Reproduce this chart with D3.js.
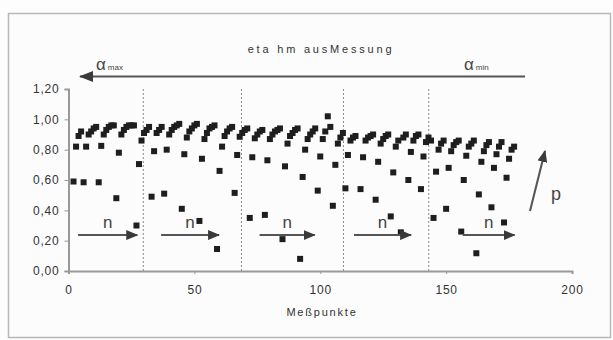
<!DOCTYPE html>
<html><head><meta charset="utf-8">
<script src="https://cdn.jsdelivr.net/npm/d3@7"></script>
<style>body{margin:0;background:#fff}svg{display:block}</style>
</head><body>
<svg id="c" width="613" height="340"></svg>
<script>
// ---- data ----
const xTicks = [0, 50, 100, 150, 200];
const yTicks = [0, 0.2, 0.4, 0.6, 0.8, 1.0, 1.2];
const messpunkt = [
  2,3,4,5,6,7,8,9,10,11,12,13,14,15,16,17,18,19,20,21,22,23,24,25,26,27,28,29,30,31,32,
  33,34,35,36,37,38,39,40,41,42,43,44,45,46,47,48,49,50,51,52,53,54,55,56,57,58,59,60,61,62,63,64,65,
  66,67,68,69,70,71,72,73,74,75,76,77,78,79,80,81,82,83,84,85,86,87,88,89,90,91,92,93,94,95,96,97,98,
  99,100,101,102,103,104,105,106,107,108,109,
  110,111,112,113,114,116,117,118,119,120,121,122,123,124,125,126,127,128,129,130,131,
  132,133,134,135,136,137,138,139,140,141,142,143,
  144,145,146,147,148,149,150,151,152,153,154,155,156,157,158,159,160,161,
  162,163,164,165,166,167,168,169,170,171,172,173,174,175,176,177
];
const eta = [
  0.59,0.82,0.89,0.92,0.585,0.82,0.90,0.92,0.94,0.95,0.585,0.825,0.90,0.93,0.95,0.96,0.96,0.48,0.78,0.90,0.93,0.95,0.96,0.96,0.96,0.30,0.705,0.86,0.91,0.93,0.95,
  0.49,0.79,0.91,0.93,0.95,0.51,0.80,0.90,0.93,0.95,0.96,0.97,0.41,0.77,0.88,0.92,0.94,0.96,0.97,0.33,0.74,0.87,0.91,0.94,0.95,0.96,0.145,0.66,0.82,0.89,0.92,0.94,0.95,
  0.515,0.765,0.885,0.91,0.93,0.94,0.35,0.75,0.875,0.90,0.92,0.93,0.37,0.73,0.87,0.90,0.92,0.93,0.94,0.21,0.69,0.84,0.89,0.91,0.93,0.94,0.08,0.62,0.80,0.87,0.90,0.92,0.94,
  0.53,0.755,0.87,0.92,1.02,0.95,0.43,0.70,0.84,0.88,0.91,
  0.545,0.765,0.86,0.88,0.89,0.54,0.75,0.86,0.88,0.89,0.90,0.47,0.72,0.84,0.87,0.89,0.90,0.36,0.65,0.82,0.86,
  0.255,0.88,0.90,0.60,0.785,0.86,0.89,0.90,0.54,0.755,0.85,0.88,
  0.86,0.35,0.655,0.80,0.84,0.86,0.41,0.68,0.79,0.83,0.85,0.86,0.26,0.60,0.76,0.82,0.84,0.86,
  0.117,0.505,0.72,0.79,0.83,0.85,0.42,0.68,0.77,0.82,0.85,0.32,0.615,0.74,0.80,0.82
];
const trennlinien = [29.7, 68.7, 109.2, 143.1];
const nPfeilStart = [3.8, 36.8, 75.9, 113.4, 156.6];
const nPfeilEnde  = [27.3, 59.8, 97.8, 136.1, 177.2];
const nPfeilEta = 0.237;

// ---- drawing ----
const svg = d3.select("#c");
const font = "'Liberation Sans', Arial, sans-serif";
const x = d3.scaleLinear().domain([0, 200]).range([68.5, 572]);
const y = d3.scaleLinear().domain([0, 1.2]).range([271, 89]);

svg.append("rect").attr("x",0).attr("y",0).attr("width",613).attr("height",340).attr("fill","#fdfdfd");
svg.append("rect").attr("x",8.5).attr("y",13.5).attr("width",602).attr("height",324)
  .attr("fill","#fcfcfc").attr("stroke","#b8b8b8").attr("stroke-width",1.5);

const defs = svg.append("defs");
function marker(id, w, h){
  defs.append("marker").attr("id",id).attr("viewBox",`0 0 ${w} ${h}`).attr("refX",w-1).attr("refY",h/2)
    .attr("markerWidth",w).attr("markerHeight",h).attr("markerUnits","userSpaceOnUse").attr("orient","auto")
    .append("path").attr("d",`M0,0 L${w},${h/2} L0,${h} z`).attr("fill","#3a3a3a");
}
marker("ah", 12, 10);
marker("ahBig", 14, 11);

// title
svg.append("text").attr("x",321).attr("y",53).attr("text-anchor","middle")
  .attr("font-family",font).attr("font-size",11).attr("letter-spacing",2.8).attr("fill","#333")
  .text("eta hm  ausMessung");

// alpha arrow
svg.append("line").attr("x1",525).attr("y1",76.5).attr("x2",80).attr("y2",76.5)
  .attr("stroke","#555").attr("stroke-width",2.2).attr("marker-end","url(#ahBig)");
function alpha(xp, sub){
  const t = svg.append("text").attr("x",xp).attr("y",70).attr("font-family",font).attr("fill","#444");
  t.append("tspan").attr("font-size",17).text("α");
  t.append("tspan").attr("font-size",8).attr("dx",2).text(sub);
}
alpha(96, "max");
alpha(464, "min");

// dashed separators
svg.append("g").selectAll("line").data(trennlinien).join("line")
  .attr("x1",d=>x(d)).attr("x2",d=>x(d)).attr("y1",y(1.2)).attr("y2",y(0))
  .attr("stroke","#888").attr("stroke-width",1).attr("stroke-dasharray","2,2");

// axes
const fmt = d => d3.format(".2f")(d).replace(".", ",");
const ya = svg.append("g").attr("transform",`translate(${x(0)},0)`)
  .call(d3.axisLeft(y).tickValues(yTicks).tickFormat(fmt).tickSize(4).tickPadding(5));
const xa = svg.append("g").attr("transform",`translate(0,${y(0)})`)
  .call(d3.axisBottom(x).tickValues(xTicks).tickFormat(d3.format("d")).tickSize(3).tickPadding(11));
[ya, xa].forEach(g => {
  g.select(".domain").attr("stroke","#999").attr("stroke-width",2);
  g.selectAll(".tick line").attr("stroke","#999");
  g.selectAll("text").attr("font-family",font).attr("font-size",12).attr("letter-spacing",0.8).attr("fill","#333");
});

// x label
svg.append("text").attr("x",322).attr("y",316).attr("text-anchor","middle")
  .attr("font-family",font).attr("font-size",11).attr("letter-spacing",1.8).attr("fill","#333")
  .text("Meßpunkte");

// points
const pts = messpunkt.map((m,i)=>({m, e: eta[i]}));
svg.append("g").selectAll("rect").data(pts).join("rect")
  .attr("x",d=>x(d.m)-3).attr("y",d=>y(d.e)-3).attr("width",6).attr("height",6).attr("fill","#1e1e1e");

// n arrows
svg.append("g").selectAll("line").data(nPfeilStart).join("line")
  .attr("x1",d=>x(d)).attr("x2",(d,i)=>x(nPfeilEnde[i])).attr("y1",y(nPfeilEta)).attr("y2",y(nPfeilEta))
  .attr("stroke","#555").attr("stroke-width",2).attr("marker-end","url(#ah)");
svg.append("g").selectAll("text").data(nPfeilStart).join("text")
  .attr("x",(d,i)=>(x(d)+x(nPfeilEnde[i]))/2).attr("y",y(nPfeilEta)-7).attr("text-anchor","middle")
  .attr("font-family",font).attr("font-size",17).attr("fill","#444").text("n");

// p arrow
svg.append("line").attr("x1",530).attr("y1",211).attr("x2",545).attr("y2",151)
  .attr("stroke","#555").attr("stroke-width",2).attr("marker-end","url(#ah)");
svg.append("text").attr("x",556).attr("y",200).attr("text-anchor","middle")
  .attr("font-family",font).attr("font-size",18).attr("fill","#444").text("p");
</script>
</body></html>
